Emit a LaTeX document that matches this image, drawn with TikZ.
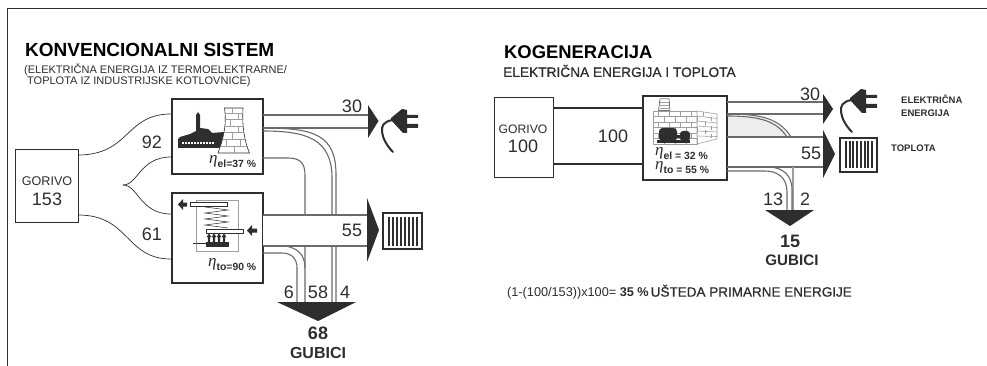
\documentclass[tikz,border=0pt]{standalone}
\usepackage{fontspec}
\setmainfont{Liberation Sans}
\newfontfamily\etafont{Liberation Serif}
\newfontfamily\medfont{Liberation Sans}[FakeBold=0.8]
\usetikzlibrary{calc}
\definecolor{ink}{gray}{0.18}
\definecolor{flow}{gray}{0.42}
\definecolor{soft}{gray}{0.62}
\newcommand{\fs}[1]{\fontsize{#1}{#1}\selectfont}
\newcommand{\etasym}{\smash{\raisebox{4pt}{\etafont\mdseries\itshape\fs{17}η}}}
\tikzset{
  x=1pt,y=-1pt,
  fuelbox/.style={draw=ink,line width=1.2pt,fill=white,inner sep=0pt,align=center},
  unitbox/.style={draw=ink,line width=2.4pt,fill=white,inner sep=0pt},
  edge/.style={draw=flow,line width=1.1pt},
  thin edge/.style={draw=ink,line width=0.7pt},
  lbl/.style={text=ink,inner sep=0pt,font=\fs{18}},
  small/.style={text=ink,inner sep=0pt,font=\fs{9.5}\bfseries,align=left,anchor=west},
  etatxt/.style={text=ink,inner sep=0pt,font=\fs{10.4}\bfseries,anchor=west},
  tip/.style={fill=ink,draw=none},
  brick/.style={draw=soft,line width=0.6pt},
}
\newcommand{\plug}[2]{%
 \begin{scope}[shift={(#1,#2)}]
  \fill[ink] (-1,8) -- (10,-1) -- (15,0) -- (15,5) -- (26,5) -- (26,8) -- (15,8) -- (15,14) -- (26,14) -- (26,18) -- (15,18) -- (15,23) -- (11,23) -- (-1,10) -- cycle;
  \draw[ink,line width=2pt,line cap=round] (1,10) .. controls (-8,11) and (-11,16) .. (-10,22) .. controls (-9,29) and (-5,36) .. (1,42);
 \end{scope}}
\newcommand{\radiator}[4]{%
 \begin{scope}[shift={(#1,#2)}]
  \draw[ink,line width=1.1pt,fill=white] (0,0) rectangle (#3,#4);
  \foreach \i in {1,...,8}{\fill[ink] ({#3*(\i+0.35)/10},3.5) rectangle ({#3*(\i+0.35)/10+2},{#4-3.5});}
 \end{scope}}
\begin{document}
\begin{tikzpicture}
\useasboundingbox (0,0) rectangle (987,366);
\fill[white] (0,0) rectangle (987,366);
\draw[ink,line width=0.7pt] (987,8) -- (7,8) -- (7,366);

% titles
\node[anchor=west,text=black,inner sep=0pt,font=\fs{19}\bfseries] (t1) at (25,49.5) {KONVENCIONALNI SISTEM};
\node[anchor=west,text=ink,inner sep=0pt,font=\fs{11}] (t2a) at (24,70) {(ELEKTRIČNA ENERGIJA IZ TERMOELEKTRARNE/};
\node[anchor=west,text=ink,inner sep=0pt,font=\fs{11}] (t2b) at (27,82) {TOPLOTA IZ INDUSTRIJSKE KOTLOVNICE)};
\node[anchor=west,text=black,inner sep=0pt,font=\fs{18.4}\bfseries] (t3) at (504,52) {KOGENERACIJA};
\node[anchor=west,text=ink,inner sep=0pt,font=\medfont\fs{13.7}] (t4) at (503,71) {ELEKTRIČNA ENERGIJA I TOPLOTA};
\node[anchor=west,text=ink,inner sep=0pt,font=\fs{12.7}] (t5) at (507,292) {(1-(100/153))x100= \textbf{35 \%}\hspace{2pt}{\medfont\fs{13.5}UŠTEDA PRIMARNE ENERGIJE}};

% LEFT system nodes
\node[fuelbox,minimum width=63pt,minimum height=73pt,anchor=north west] (g1) at (15,149) {};
\node[text=ink,inner sep=0pt,font=\fs{12.6}] (g1a) at (47,181) {GORIVO};
\node[text=ink,inner sep=0pt,font=\fs{18}] (g1b) at (47,199) {153};
\node[unitbox,minimum width=91pt,minimum height=75pt,anchor=north west] (u1) at (171,98) {};
\node[unitbox,minimum width=91pt,minimum height=90pt,anchor=north west] (u2) at (171,192) {};
\coordinate (fork) at (123,185);
\coordinate (g1t) at (78,155);
\coordinate (g1u) at (78,215);
\coordinate (u1w) at (171,114);
\coordinate (u1x) at (171,157);
\coordinate (u2w) at (171,214);
\coordinate (u2x) at (171,259);
\draw[thin edge] (g1t) .. controls (130,155) and (125,114) .. (u1w);
\draw[thin edge] (fork) .. controls (138,185) and (140,157) .. (u1x);
\draw[thin edge] (fork) .. controls (138,185) and (140,214) .. (u2w);
\draw[thin edge] (g1u) .. controls (130,215) and (125,259) .. (u2x);
\node[lbl] (n92) at (152,142) {92};
\node[lbl] (n61) at (152,234) {61};

% left flows
\coordinate (a1) at (263,115); \coordinate (a1e) at (368,115);
\coordinate (a2) at (263,128); \coordinate (a2e) at (368,128);
\coordinate (h1) at (263,215); \coordinate (h1e) at (368,215);
\coordinate (h2) at (263,246); \coordinate (h2e) at (368,246);
\coordinate (tri1) at (318,302);
\draw[edge] (a1) -- (a1e);
\draw[edge] (a2) -- (a2e);
\draw[edge] (263,128) .. controls (315,128) and (336,135) .. (336,175) -- (336,302);
\draw[edge] (263,131) .. controls (305,131) and (332,138) .. (332,178) -- (332,302);
\draw[edge] (263,158) -- (288,158) .. controls (300,158) and (305,163) .. (305,175) -- (305,302);
\fill[white] (263.3,215.5) rectangle (368,245.5);
\draw[edge] (h1) -- (h1e);
\draw[edge] (h2) -- (h2e);
\draw[edge] (285,246) .. controls (298,248) and (305,255) .. (305,268);
\draw[edge] (263,253) -- (282,253) .. controls (292,253) and (297,259) .. (297,268) -- (297,302);
\fill[tip] (368,105) -- (378.5,121) -- (368,138) -- cycle;
\fill[tip] (367,198) -- (379,230) -- (367,262) -- cycle;
\fill[tip] (277,302) -- (356,302) -- (318,321) -- cycle;
\node[lbl] (n30) at (352,106) {30};
\node[lbl] (n55) at (352,230) {55};
\node[lbl] (n6) at (289,292) {6};
\node[lbl] (n58) at (318,292) {58};
\node[lbl] (n4) at (345,292) {4};
\node[text=ink,inner sep=0pt,font=\fs{18}\bfseries] (n68) at (318,333) {68};
\node[text=ink,inner sep=0pt,font=\fs{16}\bfseries] (ng1) at (318,353) {GUBICI};
\plug{392}{110}
\radiator{383}{213}{39}{36}

% plant icon
\fill[ink] (178,148) -- (178,139) -- (180,137) -- (190,134) -- (196,131) -- (196,115) -- (198,112) -- (200,115) -- (200,128) -- (208,129) -- (212,133) -- (224,132) -- (224,148) -- cycle;
\foreach \i in {0,...,10}{\fill[white] ({182+\i*3},142.5) rectangle ({183.6+\i*3},144.5);}
\draw[ink,line width=0.6pt,fill=white] (224.5,108) -- (243,108) .. controls (242,125) and (244,140) .. (249.5,153) -- (218,153) .. controls (223,140) and (227,125) .. (224.5,108) -- cycle;
\begin{scope}
 \clip (224.5,108) -- (243,108) .. controls (242,125) and (244,140) .. (249.5,153) -- (218,153) .. controls (223,140) and (227,125) .. (224.5,108) -- cycle;
 \foreach \y in {113,119,126,132,139,146}{\draw[brick] (215,\y) -- (252,\y);}
 \foreach \x/\a/\b in {232/108/113,238/113/119,230/119/126,238/126/132,232/132/139,240/139/146,226/139/146,234/146/153}{\draw[brick] (\x,\a) -- (\x,\b);}
\end{scope}
\node[etatxt] (e1) at (209,164) {\etasym el=37 \%};

% boiler icon
\draw[soft,line width=0.7pt] (196,200) rectangle (238,251);
\draw[ink,line width=0.5pt,fill=white] (190,202) rectangle (227,206);
\draw[ink,line width=0.5pt,fill=white] (206,229) rectangle (243,233);
\draw[ink,line width=0.5pt] (205,207) -- (228,210) -- (205,213) -- (228,216) -- (205,219) -- (228,222) -- (205,225) -- (228,228);
\fill[ink] (206,242) rectangle (229,247);
\draw[ink,line width=1.2pt] (193,243.5) -- (206,243.5);
\foreach \x in {209,214,219,224}{\fill[ink] (\x-1.2,242) -- (\x-1.2,237) -- (\x-2.4,237) -- (\x,233.5) -- (\x+2.4,237) -- (\x+1.2,237) -- (\x+1.2,242) -- cycle;}
\fill[ink] (178,204.5) -- (183,199) -- (183,202.5) -- (187,202.5) -- (187,206.5) -- (183,206.5) -- (183,210) -- cycle;
\fill[ink] (247,230.5) -- (252,225) -- (252,228.5) -- (257,228.5) -- (257,232.5) -- (252,232.5) -- (252,236) -- cycle;
\node[etatxt] (e2) at (208,267) {\etasym to=90 \%};

% RIGHT system
\fill[gray!14] (726,116) -- (750,116) .. controls (768,118) and (782,124) .. (789,137) -- (726,137) -- cycle;
\node[fuelbox,minimum width=59pt,minimum height=80pt,anchor=north west] (g2) at (494,97) {};
\node[text=ink,inner sep=0pt,font=\fs{12.2}] (g2a) at (523,129) {GORIVO};
\node[text=ink,inner sep=0pt,font=\fs{18}] (g2b) at (523,146) {100};
\node[unitbox,minimum width=84pt,minimum height=84pt,anchor=north west] (u3) at (642,95) {};
\coordinate (g2t) at (553,108); \coordinate (u3t) at (642,108);
\coordinate (g2l) at (553,164); \coordinate (u3l) at (642,164);
\draw[ink,line width=1.2pt] (g2t) -- (u3t);
\draw[ink,line width=1.2pt] (g2l) -- (u3l);
\node[lbl] (n100) at (613,136) {100};
\draw[edge] (727,102) -- (823,102);
\draw[edge] (727,114) -- (823,114);
\draw[edge] (727,137) -- (823,137);
\draw[edge] (727,167) -- (823,167);
\draw[edge] (727,114) .. controls (765,114) and (780,120) .. (791,137);
\draw[edge] (727,116) .. controls (762,116) and (777,122) .. (787,137);
\draw[soft,line width=2.6pt] (793,167) -- (793,210);
\draw[edge] (770,167) .. controls (783,168) and (792,175) .. (792,190) -- (792,210);
\draw[edge] (727,171) -- (765,171) .. controls (778,171) and (787,178) .. (787,192) -- (787,210);
\fill[tip] (823,94) -- (833,109) -- (823,124) -- cycle;
\fill[tip] (823,130) -- (835,154) -- (823,178) -- cycle;
\fill[tip] (765,210) -- (814,210) -- (790,226) -- cycle;
\node[lbl] (n30b) at (810,94) {30};
\node[lbl] (n55b) at (811,153) {55};
\node[lbl] (n13) at (773,199) {13};
\node[lbl] (n2) at (805,199) {2};
\node[text=ink,inner sep=0pt,font=\fs{18}\bfseries] (n15) at (790,241) {15};
\node[text=ink,inner sep=0pt,font=\fs{15.2}\bfseries] (ng2) at (792,260) {GUBICI};
\plug{851}{90}
\radiator{840}{138}{37}{34}
\node[small] (o1) at (901,99) {ELEKTRIČNA};
\node[small] (o1b) at (901,113) {ENERGIJA};
\node[small] (o2) at (891,148) {TOPLOTA};

% cogeneration icon
\draw[soft,line width=0.6pt,fill=white] (653,111) rectangle (697,144);
\draw[soft,line width=0.6pt,fill=white] (697,111) -- (717,114) -- (717,139) -- (697,144) -- cycle;
\foreach \y in {116.5,122,127.5,133,138.5}{\draw[brick] (653,\y) -- (697,\y);}
\foreach \y/\e in {116/118.5,121/123,126/127.5,131/132,136/136.5}{\draw[brick] (697,\y) -- (717,\e);}
\foreach \y/\o in {111/0,116.5/6,122/0,127.5/6,133/0,138.5/6}{\foreach \k in {0,1,2,3}{\draw[brick] ({658+\o+\k*11},\y) -- ++(0,5.5);}}
\foreach \x/\y in {703/112,711/117,705/121,711/126,705/130,711/134}{\draw[brick] (\x,\y) -- ++(0,4.5);}
\draw[ink,line width=0.5pt,fill=white] (660,99) -- (669,99) -- (670,110.5) -- (658.5,110.5) -- cycle;
\foreach \y in {102,105,108}{\draw[soft,line width=0.5pt] (660,\y) -- (669,\y);}
\fill[ink,rounded corners=3.5pt] (659,128) rectangle (677,141);
\fill[ink,rounded corners=3pt] (680,131) rectangle (690,141);
\fill[ink] (676,135) rectangle (681,138);
\fill[ink] (657,140) rectangle (690,143);
\node[etatxt] (e3) at (655,156) {\etasym el = 32 \%};
\node[etatxt] (e4) at (655,170) {\etasym to = 55 \%};
\end{tikzpicture}
\end{document}
